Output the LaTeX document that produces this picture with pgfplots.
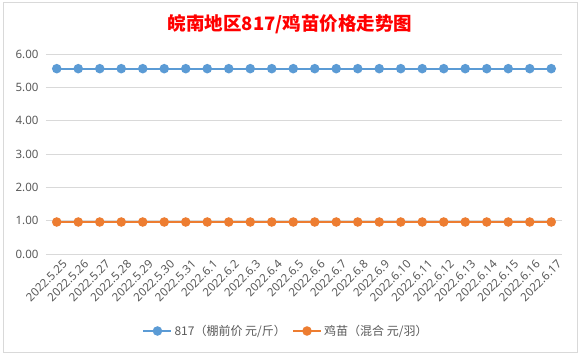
\documentclass[border=0pt]{standalone}
\usepackage{fontspec}
\usepackage{pgfplots}
\pgfplotsset{compat=1.18}
\setmainfont{Noto Sans}
\newfontfamily\cjk{Noto Sans CJK SC}
\definecolor{gridc}{HTML}{D9D9D9}
\definecolor{labc}{HTML}{595959}
\definecolor{sblue}{HTML}{5B9BD5}
\definecolor{sorange}{HTML}{ED7D31}
\begin{document}
\begin{tikzpicture}
\useasboundingbox (0pt,0pt) rectangle (581pt,354pt);
\fill[white] (0pt,0pt) rectangle (581pt,354pt);
\draw[gridc, line width=0.8pt] (3pt,2pt) rectangle (577pt,352pt);
\node[font=\cjk\bfseries\fontsize{18.5}{20}\selectfont, text=red] at (290pt,330pt) {皖南地区817/鸡苗价格走势图};
\begin{axis}[
  at={(46pt,100pt)}, anchor=south west,
  scale only axis, width=516pt, height=200pt,
  xmin=-0.5, xmax=23.5, ymin=0, ymax=6,
  ytick={0,1,2,3,4,5,6},
  /pgf/number format/fixed,
  /pgf/number format/fixed zerofill,
  /pgf/number format/precision=2,
  /pgf/number format/assume math mode=true,
  ymajorgrids, grid style={gridc, line width=0.8pt},
  axis line style={draw=none}, major tick length=0pt,
  tick label style={text=labc, font=\fontsize{11.5}{12}\selectfont},
  xtick={0,...,23},
  xticklabels={2022.5.25,2022.5.26,2022.5.27,2022.5.28,2022.5.29,2022.5.30,2022.5.31,2022.6.1,2022.6.2,2022.6.3,2022.6.4,2022.6.5,2022.6.6,2022.6.7,2022.6.8,2022.6.9,2022.6.10,2022.6.11,2022.6.12,2022.6.13,2022.6.14,2022.6.15,2022.6.16,2022.6.17},
  xticklabel style={xshift=9pt, yshift=-7.5pt, rotate=45, anchor=east, inner sep=1pt},
  yticklabel style={xshift=-4pt},
  legend columns=2,
  legend style={draw=none, fill=none, at={(0.465,-0.385)}, anchor=center, font=\cjk\fontsize{12}{12}\selectfont, text=labc, /tikz/every even column/.append style={column sep=4pt}},
  legend image code/.code={\draw[mark repeat=2,mark phase=2,#1] plot coordinates {(0pt,0pt) (14pt,0pt) (28pt,0pt)};},
]
\addplot[sblue, line width=2.2pt, mark=*, mark size=3.6pt, mark options={solid}] coordinates {
(0,5.56)(1,5.56)(2,5.56)(3,5.56)(4,5.56)(5,5.56)(6,5.56)(7,5.56)(8,5.56)(9,5.56)(10,5.56)(11,5.56)
(12,5.56)(13,5.56)(14,5.56)(15,5.56)(16,5.56)(17,5.56)(18,5.56)(19,5.56)(20,5.56)(21,5.56)(22,5.56)(23,5.56)};
\addlegendentry{817（棚前价 元/斤）}
\addplot[sorange, line width=2.2pt, mark=*, mark size=3.6pt, mark options={solid}] coordinates {
(0,0.96)(1,0.96)(2,0.96)(3,0.96)(4,0.96)(5,0.96)(6,0.96)(7,0.96)(8,0.96)(9,0.96)(10,0.96)(11,0.96)
(12,0.96)(13,0.96)(14,0.96)(15,0.96)(16,0.96)(17,0.96)(18,0.96)(19,0.96)(20,0.96)(21,0.96)(22,0.96)(23,0.96)};
\addlegendentry{鸡苗（混合 元/羽）}
\end{axis}
\end{tikzpicture}
\end{document}
